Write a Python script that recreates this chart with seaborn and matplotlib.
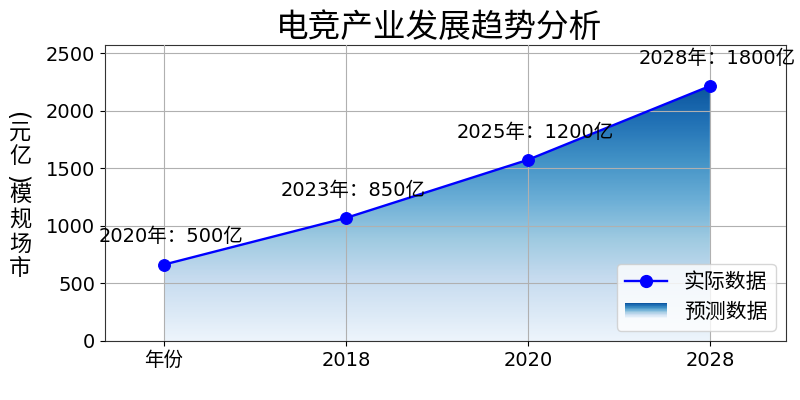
import numpy as np
import matplotlib
matplotlib.use("Agg")
import matplotlib.pyplot as plt
import seaborn as sns
from matplotlib.patches import Rectangle
from matplotlib.lines import Line2D
from matplotlib.legend_handler import HandlerBase

# ---- data ----
tick_labels = ["年份", "2018", "2020", "2028"]
market_values = [663, 1068, 1573, 2214]
annotations = ["2020年：500亿", "2023年：850亿", "2025年：1200亿", "2028年：1800亿"]
title = "电竞产业发展趋势分析"
ylabel_text = "市场规模(亿元)"
legend_labels = ["实际数据", "预测数据"]

plt.rcParams['font.family'] = ['DejaVu Sans', 'Noto Sans CJK SC']
plt.rcParams['axes.unicode_minus'] = False

x_pos = np.arange(len(tick_labels))

fig = plt.figure(figsize=(8, 4), dpi=100)
ax = fig.add_axes([0.131, 0.1475, 0.8515, 0.74])

# gradient fill under the curve
grad = np.linspace(0.05, 0.86, 256).reshape(-1, 1)
im = ax.imshow(grad, extent=[x_pos[0], x_pos[-1], 0, max(market_values)],
               origin='lower', aspect='auto', cmap='Blues', vmin=0, vmax=1,
               zorder=1, interpolation='bicubic')
poly = ax.fill_between(x_pos, market_values, 0, facecolor='none', edgecolor='none')
im.set_clip_path(poly.get_paths()[0], transform=ax.transData)

# line
sns.lineplot(x=x_pos, y=market_values, ax=ax, color='blue', linewidth=1.7,
             marker='o', markersize=8.5, markeredgecolor='blue', zorder=3)

for xi, yi, txt in zip(x_pos, market_values, annotations):
    ax.annotate(txt, (xi, yi), xytext=(5, 20), textcoords='offset points',
                ha='center', va='center', fontsize=14, zorder=4)

ax.set_xlim(-0.324, 3.418)
ax.set_ylim(0, 2570)
ax.set_xticks(x_pos)
ax.set_xticklabels(tick_labels)
ax.set_yticks([0, 500, 1000, 1500, 2000, 2500])
ax.tick_params(labelsize=14)
ax.grid(True, color='#b0b0b0', linewidth=0.8)
ax.set_axisbelow(False)
for s in ax.spines.values():
    s.set_color('#333333')

ax.set_title(title, fontsize=23.5, pad=6, x=0.49)

# vertical y label: upright characters stacked from bottom to top,
# parentheses turned sideways like a rotated label
y_px = 281.0
for ch in ylabel_text:
    is_paren = ch in "()"
    step = 14.0 if is_paren else 24.5
    cy = y_px - step / 2
    if is_paren:
        fig.text(20 / 800, 1 - cy / 400, ch, rotation=90, fontsize=17,
                 family=['DejaVu Sans'], ha='center', va='center',
                 rotation_mode='anchor')
    else:
        fig.text(20 / 800, 1 - cy / 400, ch, fontsize=16,
                 ha='center', va='center')
    y_px -= step


class HandlerGradient(HandlerBase):
    def create_artists(self, legend, orig_handle, xdescent, ydescent,
                       width, height, fontsize, trans):
        n = 24
        arts = []
        for i in range(n):
            c = plt.cm.Blues(0.85 - 0.8 * i / (n - 1))
            r = Rectangle((-xdescent, -ydescent + height * (1 - (i + 1) / n)),
                          width, height / n + 0.3, facecolor=c, edgecolor='none',
                          transform=trans)
            arts.append(r)
        return arts


line_handle = Line2D([], [], color='blue', linewidth=1.7, marker='o',
                     markersize=8.5, markeredgecolor='blue')
grad_handle = Rectangle((0, 0), 1, 1)
ax.legend([line_handle, grad_handle], legend_labels, loc='lower right',
          fontsize=15, handler_map={Rectangle: HandlerGradient()},
          framealpha=0.8)

fig.savefig("out.png", dpi=100)
